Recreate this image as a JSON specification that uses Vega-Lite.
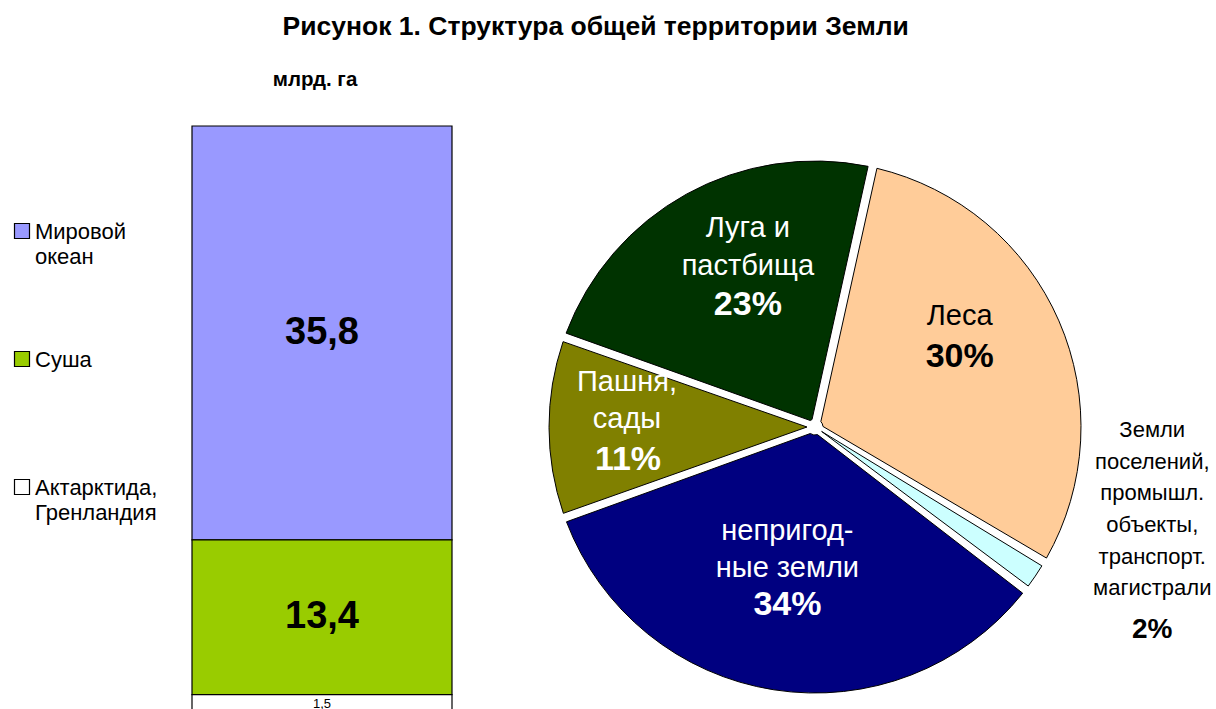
{
  "$schema": "https://vega.github.io/schema/vega-lite/v6.json",
  "background": "white",
  "padding": {"left": 0, "top": 14, "right": 0, "bottom": 0},
  "bounds": "flush",
  "spacing": 148,
  "title": {
    "text": "Рисунок 1. Структура общей территории Земли",
    "font": "Liberation Sans",
    "fontSize": 26.5,
    "fontWeight": "bold",
    "color": "black",
    "anchor": "middle",
    "dx": -10,
    "offset": 29.5
  },
  "config": {
    "font": "Liberation Sans",
    "view": {"stroke": null},
    "locale": {"number": {"decimal": ",", "thousands": " ", "grouping": [3], "currency": ["", ""]}}
  },
  "resolve": {"scale": {"color": "independent"}},
  "hconcat": [
    {
      "width": 44,
      "height": 466,
      "data": {"values": [
        {"category": "Мировой океан", "lines": ["Мировой", "океан"]},
        {"category": "Суша", "lines": ["Суша"]},
        {"category": "Актарктида, Гренландия", "lines": ["Актарктида,", "Гренландия"]}
      ]},
      "encoding": {
        "y": {"field": "category", "type": "nominal", "sort": null, "axis": null, "scale": {"type": "point", "padding": 0.8203}}
      },
      "layer": [
        {
          "mark": {"type": "point", "shape": "square", "size": 225, "filled": true, "stroke": "black", "strokeWidth": 1.2, "opacity": 1},
          "encoding": {
            "color": {"field": "category", "type": "nominal", "legend": null,
              "scale": {"domain": ["Мировой океан", "Суша", "Актарктида, Гренландия"], "range": ["#9999FF", "#99CC00", "#FFFFFF"]}}
          }
        },
        {
          "mark": {"type": "text", "align": "left", "baseline": "line-top", "dx": 13, "dy": -11, "lineHeight": 25, "font": "Liberation Sans", "fontSize": 22, "color": "black"},
          "encoding": {"text": {"field": "lines"}}
        }
      ]
    },
    {
      "width": 260,
      "height": 586,
      "title": {"text": "млрд. га", "font": "Liberation Sans", "fontSize": 20.5, "fontWeight": "bold", "color": "black", "offset": 34.5, "dx": -7},
      "data": {"values": [
        {"group": "Земля", "category": "Мировой океан", "value": 35.8, "order": 3},
        {"group": "Земля", "category": "Суша", "value": 13.4, "order": 2},
        {"group": "Земля", "category": "Актарктида, Гренландия", "value": 1.5, "order": 1}
      ]},
      "encoding": {
        "x": {"field": "group", "type": "nominal", "axis": null, "scale": {"paddingInner": 0, "paddingOuter": 0}},
        "y": {"field": "value", "type": "quantitative", "stack": "zero", "axis": null, "scale": {"domain": [0, 50.7], "nice": false}},
        "order": {"field": "order", "type": "quantitative"}
      },
      "layer": [
        {
          "mark": {"type": "bar", "stroke": "black", "strokeWidth": 1.2},
          "encoding": {
            "color": {"field": "category", "type": "nominal", "legend": null,
              "scale": {"domain": ["Мировой океан", "Суша", "Актарктида, Гренландия"], "range": ["#9999FF", "#99CC00", "#FFFFFF"]}}
          }
        },
        {
          "mark": {"type": "text", "font": "Liberation Sans", "fontSize": 38, "fontWeight": "bold", "color": "black", "baseline": "middle"},
          "encoding": {
            "y": {"field": "value", "type": "quantitative", "stack": "zero", "bandPosition": 0.5},
            "text": {"field": "value", "type": "quantitative", "format": ".1f"},
            "opacity": {"condition": {"test": "datum.category === 'Актарктида, Гренландия'", "value": 0}, "value": 1}
          }
        },
        {
          "mark": {"type": "text", "font": "Liberation Sans", "fontSize": 13, "color": "black", "baseline": "middle", "dy": 1},
          "encoding": {
            "y": {"field": "value", "type": "quantitative", "stack": "zero", "bandPosition": 0.5},
            "text": {"field": "value", "type": "quantitative", "format": ".1f"},
            "opacity": {"condition": {"test": "datum.category === 'Актарктида, Гренландия'", "value": 1}, "value": 0}
          }
        }
      ]
    },
    {
      "width": 430,
      "height": 602,
      "data": {"values": [
        {"landuse": "Леса", "share": 0.30, "order": 1, "lines": ["Леса"]},
        {"landuse": "Земли поселений, промышл. объекты, транспорт. магистрали", "share": 0.02, "order": 2, "lines": ["Земли", "поселений,", "промышл.", "объекты,", "транспорт.", "магистрали"]},
        {"landuse": "Непригодные земли", "share": 0.34, "order": 3, "lines": ["непригод-", "ные земли"]},
        {"landuse": "Пашня, сады", "share": 0.11, "order": 4, "lines": ["Пашня,", "сады"]},
        {"landuse": "Луга и пастбища", "share": 0.23, "order": 5, "lines": ["Луга и", "пастбища"]}
      ]},
      "encoding": {
        "theta": {"field": "share", "type": "quantitative", "stack": true, "scale": {"range": [0.218, 6.5012], "nice": false}},
        "order": {"field": "order", "type": "quantitative"}
      },
      "layer": [
        {
          "mark": {"type": "arc", "outerRadius": 266, "innerRadius": 8, "padAngle": 0.034, "stroke": "black", "strokeWidth": 1},
          "encoding": {
            "color": {"field": "landuse", "type": "nominal", "legend": null,
              "scale": {"domain": ["Леса", "Земли поселений, промышл. объекты, транспорт. магистрали", "Непригодные земли", "Пашня, сады", "Луга и пастбища"],
                        "range": ["#FFCC99", "#CCFFFF", "#000080", "#808000", "#003300"]}}
          }
        },
        {
          "mark": {"type": "text", "radius": 172, "baseline": "alphabetic", "align": "center", "dx": 16, "dy": -39.4, "font": "Liberation Sans", "fontSize": 29, "lineHeight": 38, "color": "white"},
          "encoding": {
            "text": {"field": "lines"},
            "opacity": {"condition": {"test": "datum.landuse === 'Луга и пастбища'", "value": 1}, "value": 0}
          }
        },
        {
          "mark": {"type": "text", "radius": 172, "baseline": "alphabetic", "align": "center", "dx": 16, "dy": 38.6, "font": "Liberation Sans", "fontSize": 34, "fontWeight": "bold", "color": "white"},
          "encoding": {
            "text": {"field": "share", "type": "quantitative", "format": ".0%"},
            "opacity": {"condition": {"test": "datum.landuse === 'Луга и пастбища'", "value": 1}, "value": 0}
          }
        },
        {
          "mark": {"type": "text", "radius": 172, "baseline": "alphabetic", "align": "center", "dx": -13, "dy": -33.4, "font": "Liberation Sans", "fontSize": 29, "color": "black"},
          "encoding": {
            "text": {"field": "lines"},
            "opacity": {"condition": {"test": "datum.landuse === 'Леса'", "value": 1}, "value": 0}
          }
        },
        {
          "mark": {"type": "text", "radius": 172, "baseline": "alphabetic", "align": "center", "dx": -13, "dy": 8.6, "font": "Liberation Sans", "fontSize": 34, "fontWeight": "bold", "color": "black"},
          "encoding": {
            "text": {"field": "share", "type": "quantitative", "format": ".0%"},
            "opacity": {"condition": {"test": "datum.landuse === 'Леса'", "value": 1}, "value": 0}
          }
        },
        {
          "mark": {"type": "text", "radius": 172, "baseline": "alphabetic", "align": "center", "dx": -16, "dy": -36.3, "font": "Liberation Sans", "fontSize": 29, "lineHeight": 37, "color": "white"},
          "encoding": {
            "text": {"field": "lines"},
            "opacity": {"condition": {"test": "datum.landuse === 'Пашня, сады'", "value": 1}, "value": 0}
          }
        },
        {
          "mark": {"type": "text", "radius": 172, "baseline": "alphabetic", "align": "center", "dx": -15, "dy": 42.7, "font": "Liberation Sans", "fontSize": 34, "fontWeight": "bold", "color": "white"},
          "encoding": {
            "text": {"field": "share", "type": "quantitative", "format": ".0%"},
            "opacity": {"condition": {"test": "datum.landuse === 'Пашня, сады'", "value": 1}, "value": 0}
          }
        },
        {
          "mark": {"type": "text", "radius": 172, "baseline": "alphabetic", "align": "center", "dx": -1, "dy": -57, "font": "Liberation Sans", "fontSize": 29, "lineHeight": 37, "color": "white"},
          "encoding": {
            "text": {"field": "lines"},
            "opacity": {"condition": {"test": "datum.landuse === 'Непригодные земли'", "value": 1}, "value": 0}
          }
        },
        {
          "mark": {"type": "text", "radius": 172, "baseline": "alphabetic", "align": "center", "dx": -1, "dy": 18, "font": "Liberation Sans", "fontSize": 34, "fontWeight": "bold", "color": "white"},
          "encoding": {
            "text": {"field": "share", "type": "quantitative", "format": ".0%"},
            "opacity": {"condition": {"test": "datum.landuse === 'Непригодные земли'", "value": 1}, "value": 0}
          }
        },
        {
          "transform": [
            {"stack": "share", "groupby": [], "sort": [{"field": "order", "order": "ascending"}], "as": ["share_start", "share_end"]},
            {"filter": "datum.share < 0.05"}
          ],
          "mark": {"type": "text", "radius": 338, "dx": 46, "dy": -161.6, "baseline": "alphabetic", "align": "center", "font": "Liberation Sans", "fontSize": 22, "lineHeight": 31.7, "color": "black"},
          "encoding": {
            "theta": {"field": "share_start", "type": "quantitative", "stack": null},
            "text": {"field": "lines"}
          }
        },
        {
          "transform": [
            {"stack": "share", "groupby": [], "sort": [{"field": "order", "order": "ascending"}], "as": ["share_start", "share_end"]},
            {"filter": "datum.share < 0.05"}
          ],
          "mark": {"type": "text", "radius": 338, "dx": 46, "dy": 39, "baseline": "alphabetic", "align": "center", "font": "Liberation Sans", "fontSize": 28, "fontWeight": "bold", "color": "black"},
          "encoding": {
            "theta": {"field": "share_start", "type": "quantitative", "stack": null},
            "text": {"field": "share", "type": "quantitative", "format": ".0%"}
          }
        }
      ]
    }
  ]
}
